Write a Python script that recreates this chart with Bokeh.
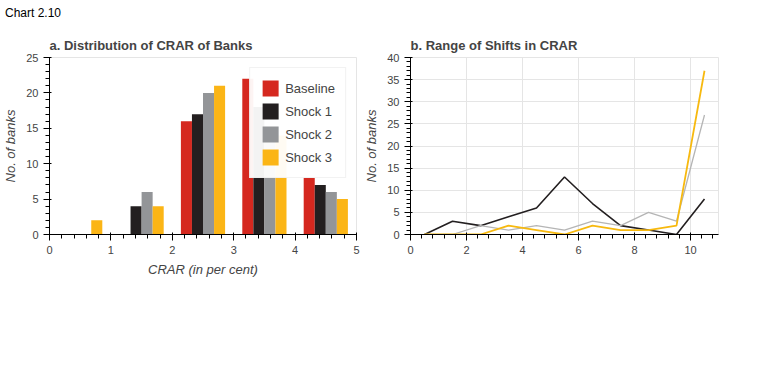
import math
from bokeh.plotting import figure
from bokeh.models import (Range1d, FixedTicker, ColumnDataSource,
                          LabelSet, Legend, LegendItem, Div, Spacer, Label)
from bokeh.layouts import row, column
from bokeh.transform import dodge
from bokeh.core.properties import value
from bokeh.embed import file_html
from bokeh.resources import INLINE

# ---------------- data ----------------
crar_categories = ["10 to 11", "11 to 12", "12 to 15", "15 to 20", "Above 20"]
baseline = [0, 0, 16, 22, 8]
shock1_a = [0, 4, 17, 18, 7]
shock2_a = [0, 6, 20, 14, 6]
shock3_a = [2, 4, 21, 14, 5]

shift_categories = ["Upto 10", "10-20", "20-30", "30-40", "40-50", "50-60",
                    "60-70", "70-80", "80-90", "90-100", "Above 100"]
shock1_b = [0, 3, 2, 4, 6, 13, 7, 2, 1, 0, 8]
shock2_b = [0, 0, 2, 1, 2, 1, 3, 2, 5, 3, 27]
shock3_b = [0, 0, 0, 2, 1, 0, 2, 1, 1, 2, 37]

y_ticks_a = [0, 5, 10, 15, 20, 25]
y_ticks_b = [0, 5, 10, 15, 20, 25, 30, 35, 40]

RED = "#d5281f"
BLACK = "#231f20"
GREY = "#939598"
YELLOW = "#fbb516"
LGREY = "#b5b5b5"
LYELLOW = "#f7b90f"
AXIS = "#3a3a3a"
SERIF = "Liberation Serif"

pa = figure(width=361, height=249, x_range=Range1d(0, len(crar_categories)),
            y_range=Range1d(0, 25), output_backend="svg", toolbar_location=None,
            title="a. Distribution of CRAR of Banks")
pa.grid.visible = False
xs_a = [i + 0.5 for i in range(len(crar_categories))]
src_a = ColumnDataSource(dict(x=xs_a, baseline=baseline, shock1=shock1_a,
                              shock2=shock2_a, shock3=shock3_a))
series_a = [("Baseline", "baseline", RED, -0.27),
            ("Shock 1", "shock1", BLACK, -0.09),
            ("Shock 2", "shock2", GREY, 0.09),
            ("Shock 3", "shock3", YELLOW, 0.27)]
for name, col, color, off in series_a:
    pa.vbar(x=dodge("x", off), top=col, width=0.18, source=src_a,
            fill_color=color, line_color=None, legend_label=name)
pa.yaxis.axis_label = "No. of banks"
pa.xaxis.axis_label = "CRAR (in per cent)"

pb = figure(width=362, height=249, x_range=Range1d(0, len(shift_categories)),
            y_range=Range1d(0, 40), output_backend="svg", toolbar_location=None,
            title="b. Range of Shifts in CRAR")
xs_b = [i + 0.5 for i in range(len(shift_categories))]
src_b = ColumnDataSource(dict(x=xs_b, s1=shock1_b, s2=shock2_b, s3=shock3_b))
pb.line(x="x", y="s1", source=src_b, line_color=BLACK, line_width=1.6)
pb.line(x="x", y="s2", source=src_b, line_color=LGREY, line_width=1.3)
pb.line(x="x", y="s3", source=src_b, line_color=LYELLOW, line_width=1.8)
pb.yaxis.axis_label = "No. of banks"

page = column(Div(text="Chart 2.10", width=756, height=20), row(pa, pb))

with open("out.html", "w") as f:
    f.write(file_html(page, INLINE))
